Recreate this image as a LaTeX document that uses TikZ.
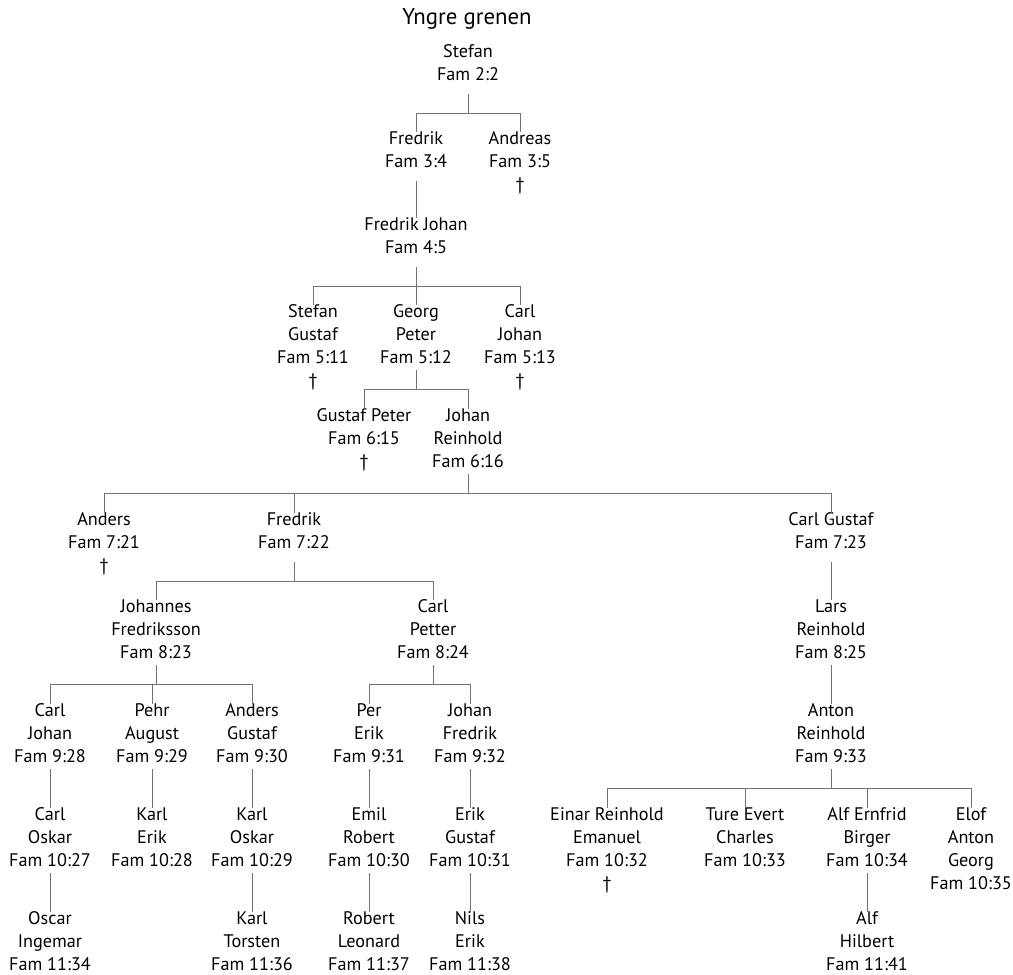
\documentclass[tikz,border=0pt]{standalone}
\usepackage{fontspec}
\setmainfont{PT Sans}
\usetikzlibrary{calc}
\newcommand\fttop{\rule{0pt}{19pt}}
\newcommand\ftbot{\rule[-6pt]{0pt}{6pt}}
\newcommand\ftbotb{\rule[-13pt]{0pt}{13pt}}
\tikzset{
  person/.style={anchor=north, align=center, inner sep=0pt, outer sep=0pt,
    font=\fontsize{18.2}{23}\selectfont,
    execute at begin node=\fttop, execute at end node=\ftbot},
  tall/.style={execute at end node=\ftbotb},
  conn/.style={draw=black!55, line width=0.8pt},
  titlestyle/.style={font=\fontsize{22.8}{26}\selectfont, inner sep=0pt}
}
\begin{document}
\begin{tikzpicture}[x=1pt,y=-1pt]
\useasboundingbox (0,0) rectangle (1013,975);
\node[titlestyle] (title) at (467,19) {Yngre grenen};
\begin{scope}[yshift=-7pt]
% generation 2-4
\node[person,tall] (s22) at (468,38) {Stefan\\Fam 2:2};
\node[person,tall] (f34) at (416,125) {Fredrik\\Fam 3:4};
\node[person] (a35) at (520,125) {Andreas\\Fam 3:5\\†};
\node[person,tall] (fj45) at (416,211) {Fredrik Johan\\Fam 4:5};
% generation 5
\node[person] (sg511) at (313,298) {Stefan\\Gustaf\\Fam 5:11\\†};
\node[person] (gp512) at (416,298) {Georg\\Peter\\Fam 5:12};
\node[person] (cj513) at (520,298) {Carl\\Johan\\Fam 5:13\\†};
% generation 6
\node[person] (gp615) at (364,402) {Gustaf Peter\\Fam 6:15\\†};
\node[person] (jr616) at (468,402) {Johan\\Reinhold\\Fam 6:16};
% generation 7
\node[person] (a721) at (104,506) {Anders\\Fam 7:21\\†};
\node[person,tall] (f722) at (294,506) {Fredrik\\Fam 7:22};
\node[person,tall] (cg723) at (831,506) {Carl Gustaf\\Fam 7:23};
% generation 8
\node[person] (jf823) at (156,593) {Johannes\\Fredriksson\\Fam 8:23};
\node[person] (cp824) at (433,593) {Carl\\Petter\\Fam 8:24};
\node[person] (lr825) at (831,593) {Lars\\Reinhold\\Fam 8:25};
% generation 9
\node[person] (cj928) at (50,697) {Carl\\Johan\\Fam 9:28};
\node[person] (pa929) at (152,697) {Pehr\\August\\Fam 9:29};
\node[person] (ag930) at (252,697) {Anders\\Gustaf\\Fam 9:30};
\node[person] (pe931) at (369,697) {Per\\Erik\\Fam 9:31};
\node[person] (jf932) at (470,697) {Johan\\Fredrik\\Fam 9:32};
\node[person] (ar933) at (831,697) {Anton\\Reinhold\\Fam 9:33};
% generation 10
\node[person] (co1027) at (50,801) {Carl\\Oskar\\Fam 10:27};
\node[person] (ke1028) at (152,801) {Karl\\Erik\\Fam 10:28};
\node[person] (ko1029) at (252,801) {Karl\\Oskar\\Fam 10:29};
\node[person] (er1030) at (369,801) {Emil\\Robert\\Fam 10:30};
\node[person] (eg1031) at (470,801) {Erik\\Gustaf\\Fam 10:31};
\node[person] (ere1032) at (607,801) {Einar Reinhold\\Emanuel\\Fam 10:32\\†};
\node[person] (tec1033) at (745,801) {Ture Evert\\Charles\\Fam 10:33};
\node[person] (aeb1034) at (867,801) {Alf Ernfrid\\Birger\\Fam 10:34};
\node[person] (eag1035) at (971,801) {Elof\\Anton\\Georg\\Fam 10:35};
% generation 11
\node[person] (oi1134) at (50,905) {Oscar\\Ingemar\\Fam 11:34};
\node[person] (kt1136) at (252,905) {Karl\\Torsten\\Fam 11:36};
\node[person] (rl1137) at (369,905) {Robert\\Leonard\\Fam 11:37};
\node[person] (ne1138) at (470,905) {Nils\\Erik\\Fam 11:38};
\node[person] (ah1141) at (867,905) {Alf\\Hilbert\\Fam 11:41};
\end{scope}

% connectors
% Stefan -> Fredrik, Andreas
\coordinate (b1) at ($(s22.south)!0.5!(s22.south |- f34.north)$);
\draw[conn] (s22.south) -- (b1);
\draw[conn] (f34.north) |- (b1) -| (a35.north);
\draw[conn] (f34.south) -- (fj45.north);
% Fredrik Johan -> gen 5
\coordinate (b2) at ($(fj45.south)!0.5!(fj45.south |- gp512.north)$);
\draw[conn] (fj45.south) -- (gp512.north);
\draw[conn] (sg511.north) |- (b2) -| (cj513.north);
% Georg Peter -> gen 6
\coordinate (b3) at ($(gp512.south)!0.5!(gp512.south |- jr616.north)$);
\draw[conn] (gp512.south) -- (gp512.south |- b3);
\draw[conn] (gp615.north) |- (b3) -| (jr616.north);
% Johan Reinhold -> gen 7
\coordinate (b4) at ($(jr616.south)!0.5!(jr616.south |- f722.north)$);
\draw[conn] (jr616.south) -- (b4);
\draw[conn] (a721.north) |- (b4) -| (cg723.north);
\draw[conn] (f722.north) -- (f722.north |- b4);
% Fredrik 7:22 -> gen 8
\coordinate (b5) at ($(f722.south)!0.5!(f722.south |- jf823.north)$);
\draw[conn] (f722.south) -- (b5);
\draw[conn] (jf823.north) |- (b5) -| (cp824.north);
\draw[conn] (cg723.south) -- (lr825.north);
\draw[conn] (lr825.south) -- (ar933.north);
% Johannes -> gen 9
\coordinate (b6) at ($(jf823.south)!0.5!(jf823.south |- pa929.north)$);
\draw[conn] (jf823.south) -- (jf823.south |- b6);
\draw[conn] (cj928.north) |- (b6) -| (ag930.north);
\draw[conn] (pa929.north) -- (pa929.north |- b6);
% Carl Petter -> gen 9
\coordinate (b7) at ($(cp824.south)!0.5!(cp824.south |- pe931.north)$);
\draw[conn] (cp824.south) -- (b7);
\draw[conn] (pe931.north) |- (b7) -| (jf932.north);
% Anton -> gen 10
\coordinate (b8) at ($(ar933.south)!0.5!(ar933.south |- ere1032.north)$);
\draw[conn] (ar933.south) -- (b8);
\draw[conn] (ere1032.north) |- (b8) -| (eag1035.north);
\draw[conn] (tec1033.north) -- (tec1033.north |- b8);
\draw[conn] (aeb1034.north) -- (aeb1034.north |- b8);
% direct lines
\draw[conn] (cj928.south) -- (co1027.north);
\draw[conn] (pa929.south) -- (ke1028.north);
\draw[conn] (ag930.south) -- (ko1029.north);
\draw[conn] (pe931.south) -- (er1030.north);
\draw[conn] (jf932.south) -- (eg1031.north);
\draw[conn] (co1027.south) -- (oi1134.north);
\draw[conn] (ko1029.south) -- (kt1136.north);
\draw[conn] (er1030.south) -- (rl1137.north);
\draw[conn] (eg1031.south) -- (ne1138.north);
\draw[conn] (aeb1034.south) -- (ah1141.north);
\end{tikzpicture}
\end{document}
